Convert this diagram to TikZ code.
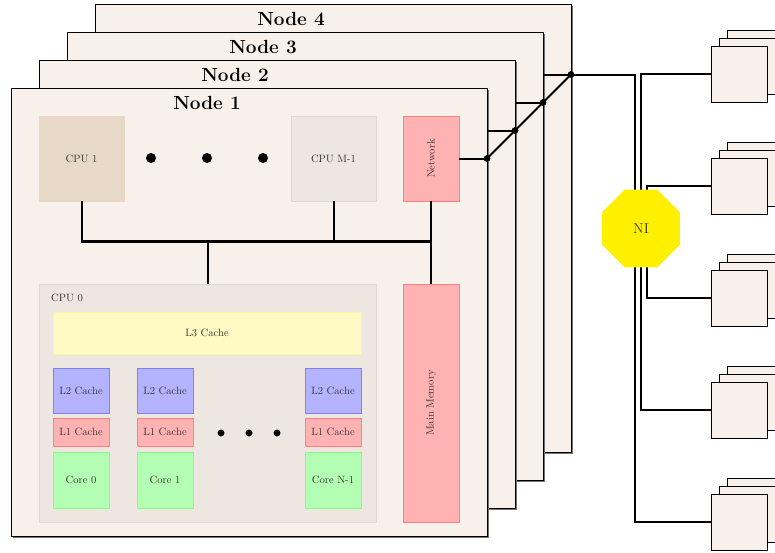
\documentclass[tikz,border=0pt]{standalone}
\usepackage{graphicx}
\usetikzlibrary{shapes.geometric,shadows}
\definecolor{nodebg}{RGB}{247,240,235}
\definecolor{cpuone}{RGB}{232,216,200}
\definecolor{cpugray}{RGB}{237,230,225}
\definecolor{cpugrayb}{RGB}{222,216,212}
\definecolor{redfill}{RGB}{255,178,178}
\definecolor{redline}{RGB}{255,128,128}
\definecolor{bluefill}{RGB}{179,179,255}
\definecolor{blueline}{RGB}{128,128,255}
\definecolor{greenfill}{RGB}{179,255,179}
\definecolor{greenline}{RGB}{128,255,128}
\definecolor{yelfill}{RGB}{255,250,195}
\definecolor{yelline}{RGB}{255,245,160}
\definecolor{niyellow}{RGB}{255,240,0}
\definecolor{labelgray}{RGB}{55,55,55}
\begin{document}
\begin{tikzpicture}[x=1pt,y=-1pt,
  shadowed/.style={drop shadow={shadow xshift=1.1pt,shadow yshift=-1.1pt,fill=black!55,opacity=1}},
  nodebox/.style={draw=black,line width=0.9pt,fill=nodebg,anchor=north west,
    minimum width=476pt,minimum height=448pt,inner sep=0pt,shadowed},
  nodetitle/.style={font=\fontsize{19}{22}\selectfont\bfseries,inner sep=0pt},
  lbl/.style={font=\fontsize{10.6}{12}\selectfont,text=labelgray,inner sep=0pt},
  sq/.style={lbl,line width=0.8pt,minimum width=#1pt},
  cpubox/.style={sq=85,minimum height=85pt},
  netbox/.style={sq=56,fill=redfill,draw=redline},
  ltwo/.style={sq=56,minimum height=45pt,fill=bluefill,draw=blueline},
  lone/.style={sq=56,minimum height=28pt,fill=redfill,draw=redline},
  corebox/.style={sq=56,minimum height=56pt,fill=greenfill,draw=greenline},
  bigdot/.style={circle,fill=black,inner sep=0pt,minimum size=#1pt},
  minibox/.style={draw=black,line width=0.9pt,fill=nodebg,minimum size=56pt,inner sep=0pt,shadowed},
  conn/.style={line width=2pt},
  bus/.style={line width=3.8pt}
]
\useasboundingbox (0,0) rectangle (775,552);

% stacked compute nodes
\foreach \k in {4,3,2,1}{
  \pgfmathsetmacro\d{(\k-1)*28}
  \node[nodebox] (n\k) at ({11+\d},{88-\d}) {};
  \node[nodetitle] (t\k) at ({207+\d},{103-\d}) {Node \k};
}

% node 1 contents
\node[cpubox,fill=cpuone,draw=cpuone] (cpu1) at (81.5,158.5) {CPU 1};
\node[cpubox,fill=cpugray,draw=cpugrayb] (cpum) at (333.5,158.5) {CPU M-1};
\node[bigdot=10] (da) at (151,158) {};
\node[bigdot=10] (db) at (207,158) {};
\node[bigdot=10] (dc) at (263,158) {};
\node[netbox,minimum height=85pt] (net) at (431,158.5) {\rotatebox{90}{Network}};

\node[lbl,fill=cpugray,draw=cpugrayb,line width=0.8pt,anchor=north west,
  minimum width=337pt,minimum height=238pt] (cpu0) at (39,284) {};
\node[lbl,anchor=west] (cpu0lbl) at (51,298) {CPU 0};
\node[sq=308,minimum height=42pt,fill=yelfill,draw=yelline] (l3) at (207,333) {L3 Cache};

\node[ltwo] (l2a) at (81,390.5) {L2 Cache};
\node[ltwo] (l2b) at (165,390.5) {L2 Cache};
\node[ltwo] (l2c) at (333,390.5) {L2 Cache};
\node[lone] (l1a) at (81,432) {L1 Cache};
\node[lone] (l1b) at (165,432) {L1 Cache};
\node[lone] (l1c) at (333,432) {L1 Cache};
\node[corebox] (c0) at (81,480) {Core 0};
\node[corebox] (c1) at (165,480) {Core 1};
\node[corebox] (cn) at (333,480) {Core N-1};
\node[bigdot=7] (ea) at (221,433) {};
\node[bigdot=7] (eb) at (249,433) {};
\node[bigdot=7] (ec) at (277,433) {};

\node[netbox,minimum height=238pt] (mem) at (431,403) {\rotatebox{90}{Main Memory}};

% bus
\coordinate (busl) at (81,241.5);
\coordinate (busr) at (431,241.5);
\draw[conn] (cpu1.south) -- (cpu1.south |- busl);
\draw[conn] (cpum.south) -- (cpum.south |- busl);
\draw[conn] (net.south) -- (mem.north);
\draw[conn] (cpu0.north) -- (cpu0.north |- busl);
\draw[bus] (busl) -- (busr);

% network links
\coordinate (j1) at (487,158.5);
\coordinate (j2) at (515,130.5);
\coordinate (j3) at (543,102.5);
\coordinate (j4) at (571,74.5);
\draw[conn] (net.east) -- (j1);
\draw[conn] (n1.east |- j2) -- (j2);
\draw[conn] (n2.east |- j3) -- (j3);
\draw[conn] (n3.east |- j4) -- (j4);
\draw[conn] (j1) -- (j4);
\foreach \j in {j1,j2,j3,j4} \fill (\j) circle (3.4pt);

% remote node stacks
\foreach \i in {1,...,5}{
  \pgfmathsetmacro\yy{74+112*(\i-1)}
  \node[minibox] (sc\i) at (755,{\yy-16}) {};
  \node[minibox] (sb\i) at (747,{\yy-8}) {};
  \node[minibox] (s\i) at (739,\yy) {};
}

\coordinate (pa) at (635,74.5);
\coordinate (pb) at (641,0);
\coordinate (pc) at (647,0);
\draw[conn] (j4) -- (pa) |- (s5.west);
\draw[conn] (s1.west) -| (pb |- s4.west) -- (s4.west);
\draw[conn] (s2.west) -| (pc |- s3.west) -- (s3.west);

\node[regular polygon,regular polygon sides=8,minimum size=84.4pt,inner sep=0pt,
  fill=niyellow,font=\fontsize{14.4}{16}\selectfont,text=labelgray] (ni) at (641,228.5) {NI};
\end{tikzpicture}
\end{document}
